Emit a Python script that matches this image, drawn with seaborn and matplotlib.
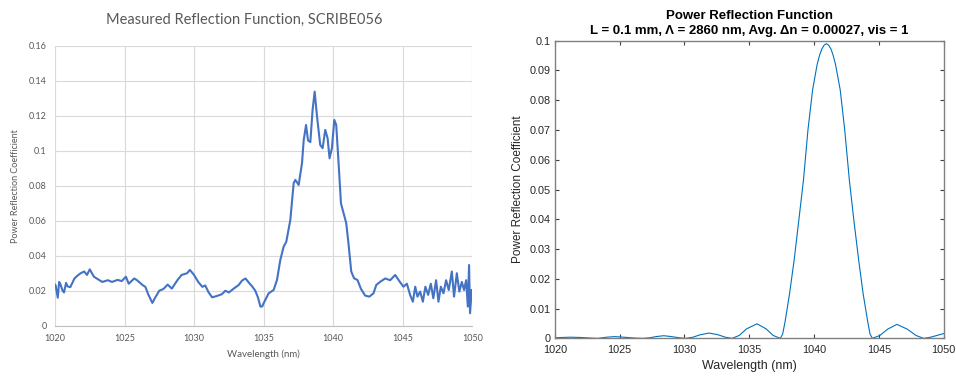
import numpy as np
import pandas as pd
import matplotlib
matplotlib.use("Agg")
import matplotlib.pyplot as plt
import seaborn as sns

# --- measured spectrum (left panel) ---
meas_wl = [1020.0, 1020.05, 1020.2, 1020.3, 1020.4, 1020.55, 1020.65, 1020.8, 1020.9, 1021.1,
           1021.4, 1021.6, 1021.85, 1022.1, 1022.3, 1022.5, 1022.8, 1023.0, 1023.4, 1023.8,
           1024.1, 1024.5, 1024.8, 1025.1, 1025.3, 1025.7, 1025.9, 1026.3, 1026.5, 1026.7,
           1027.0, 1027.2, 1027.5, 1027.8, 1028.1, 1028.4, 1028.8, 1029.1, 1029.5, 1029.7,
           1030.0, 1030.3, 1030.6, 1030.8, 1031.05, 1031.3, 1031.65, 1032.0, 1032.25, 1032.5,
           1032.85, 1033.2, 1033.45, 1033.7, 1033.9, 1034.2, 1034.4, 1034.6, 1034.77, 1034.9,
           1035.0, 1035.36, 1035.72, 1035.96, 1036.2, 1036.44, 1036.63, 1036.92, 1037.16, 1037.28,
           1037.52, 1037.76, 1037.88, 1038.05, 1038.19, 1038.36, 1038.52, 1038.67, 1038.84, 1039.07,
           1039.24, 1039.43, 1039.6, 1039.74, 1039.91, 1040.08, 1040.22, 1040.39, 1040.56, 1040.75,
           1040.94, 1041.1, 1041.3, 1041.5, 1041.75, 1042.0, 1042.3, 1042.6, 1042.9, 1043.1,
           1043.4, 1043.74, 1044.1, 1044.46, 1044.8, 1045.05, 1045.3, 1045.53, 1045.73, 1045.9,
           1046.06, 1046.25, 1046.45, 1046.63, 1046.83, 1047.02, 1047.2, 1047.4, 1047.57, 1047.74,
           1047.93, 1048.12, 1048.31, 1048.53, 1048.69, 1048.89, 1049.07, 1049.25, 1049.41, 1049.56,
           1049.68, 1049.77, 1049.84, 1049.96]
meas_r = [0.0235, 0.0230, 0.0160, 0.0250, 0.0235, 0.0200, 0.0190, 0.0245, 0.0225, 0.0220,
          0.0270, 0.0285, 0.0300, 0.0310, 0.0290, 0.0322, 0.0280, 0.0270, 0.0250, 0.0260,
          0.0250, 0.0262, 0.0255, 0.0280, 0.0240, 0.0270, 0.0260, 0.0232, 0.0222, 0.0180,
          0.0130, 0.0160, 0.0200, 0.0210, 0.0235, 0.0212, 0.0260, 0.0290, 0.0300, 0.0319,
          0.0290, 0.0250, 0.0222, 0.0230, 0.0190, 0.0162, 0.0170, 0.0180, 0.0200, 0.0190,
          0.0212, 0.0232, 0.0258, 0.0270, 0.0250, 0.0222, 0.0200, 0.0160, 0.0109, 0.0110,
          0.0128, 0.0185, 0.0204, 0.0261, 0.0376, 0.0452, 0.0480, 0.0605, 0.0815, 0.0834,
          0.0805, 0.0930, 0.1060, 0.1148, 0.1060, 0.1050, 0.1234, 0.1339, 0.1196, 0.1034,
          0.1015, 0.1120, 0.1072, 0.0958, 0.1015, 0.1177, 0.1148, 0.0930, 0.0700, 0.0643,
          0.0586, 0.0471, 0.0310, 0.0271, 0.0261, 0.0210, 0.0172, 0.0166, 0.0185, 0.0233,
          0.0252, 0.0270, 0.0260, 0.0290, 0.0250, 0.0223, 0.0240, 0.0176, 0.0137, 0.0223,
          0.0166, 0.0195, 0.0137, 0.0223, 0.0176, 0.0240, 0.0157, 0.0260, 0.0137, 0.0223,
          0.0185, 0.0260, 0.0204, 0.0310, 0.0166, 0.0300, 0.0195, 0.0250, 0.0204, 0.0260,
          0.0109, 0.0347, 0.0071, 0.0204]

# --- simulated spectrum (right panel) ---
sim_wl = [1020.0, 1020.5, 1021.2, 1022.0, 1022.8, 1023.3, 1024.0, 1024.6, 1025.3, 1026.2,
          1026.8, 1027.3, 1027.8, 1028.4, 1029.0, 1029.6, 1030.1, 1030.65, 1031.2, 1031.9,
          1032.6, 1033.15, 1033.67, 1034.23, 1034.79, 1035.6, 1036.3, 1036.84, 1037.4, 1037.58,
          1037.76, 1038.11, 1038.47, 1038.82, 1039.18, 1039.53, 1039.89, 1040.24, 1040.42, 1040.6,
          1040.78, 1040.95, 1041.12, 1041.31, 1041.48, 1041.66, 1042.02, 1042.37, 1042.73, 1043.08,
          1043.44, 1043.79, 1044.15, 1044.32, 1044.5, 1045.09, 1045.68, 1046.4, 1047.2, 1047.87,
          1048.46, 1049.0, 1049.5, 1050.0]
sim_r = [0.0002, 0.0003, 0.0004, 0.0003, 0.0001, 0.0, 0.0004, 0.0006, 0.0004, 0.0001,
         0.0, 0.0002, 0.0006, 0.0009, 0.0006, 0.0002, 0.0, 0.0004, 0.0012, 0.0018,
         0.0012, 0.0004, 0.0, 0.0010, 0.0032, 0.0049, 0.0032, 0.0010, 0.0, 0.0015,
         0.0055, 0.0150, 0.0265, 0.0395, 0.0530, 0.0700, 0.0835, 0.0920, 0.0950, 0.0972,
         0.0985, 0.0990, 0.0985, 0.0972, 0.0950, 0.0920, 0.0835, 0.0700, 0.0530, 0.0395,
         0.0265, 0.0150, 0.0055, 0.0015, 0.0, 0.0010, 0.0031, 0.0047, 0.0031, 0.0010,
         0.0, 0.0004, 0.0010, 0.0016]

x_ticks = [1020, 1025, 1030, 1035, 1040, 1045, 1050]
left_yticks = [0, 0.02, 0.04, 0.06, 0.08, 0.1, 0.12, 0.14, 0.16]
right_yticks = [0, 0.01, 0.02, 0.03, 0.04, 0.05, 0.06, 0.07, 0.08, 0.09, 0.1]

meas_df = pd.DataFrame({"wl": meas_wl, "r": meas_r})
sim_df = pd.DataFrame({"wl": sim_wl, "r": sim_r})

fig = plt.figure(figsize=(9.56, 3.8), dpi=100)

# ---------- left: Excel-like ----------
excel_grey = "#595959"
with sns.axes_style("whitegrid", {"grid.color": "#D9D9D9", "axes.edgecolor": "#BFBFBF"}):
    ax1 = fig.add_axes([0.0575, 0.143, 0.4365, 0.736])
sns.lineplot(data=meas_df, x="wl", y="r", ax=ax1, color="#4472C4", linewidth=1.5,
             estimator=None, sort=False)
ax1.set_xlim(1020, 1050)
ax1.set_ylim(0, 0.16)
ax1.set_xticks(x_ticks)
ax1.set_yticks(left_yticks)
ax1.set_yticklabels(["0", "0.02", "0.04", "0.06", "0.08", "0.1", "0.12", "0.14", "0.16"])
ax1.grid(True, color="#D9D9D9", linewidth=0.8)
for s in ["top", "right", "left"]:
    ax1.spines[s].set_visible(False)
ax1.spines["bottom"].set_color("#BFBFBF")
ax1.tick_params(axis="both", length=0, labelsize=6.5, labelcolor=excel_grey, pad=6)
ax1.set_xlabel("Wavelength (nm)", fontsize=7, color=excel_grey, labelpad=5)
ax1.set_ylabel("Power Reflection Coefficient", fontsize=6.5, color=excel_grey, labelpad=6)
for lab in ax1.get_xticklabels() + ax1.get_yticklabels():
    lab.set_family("Lato")
ax1.xaxis.label.set_family("Lato")
ax1.yaxis.label.set_family("Lato")
fig.text(244.5 / 956, 1 - 20 / 380, "Measured Reflection Function, SCRIBE056",
         ha="center", va="center", fontsize=10.5, color=excel_grey, family="Lato")

# ---------- right: MATLAB-like ----------
with sns.axes_style("ticks"):
    ax2 = fig.add_axes([0.5805, 0.1095, 0.4065, 0.7835])
sns.lineplot(data=sim_df, x="wl", y="r", ax=ax2, color="#0072BD", linewidth=0.8,
             estimator=None, sort=False)
ax2.set_xlim(1020, 1050)
ax2.set_ylim(0, 0.1)
ax2.set_xticks(x_ticks)
ax2.set_yticks(right_yticks)
ax2.set_yticklabels(["0", "0.01", "0.02", "0.03", "0.04", "0.05", "0.06", "0.07", "0.08", "0.09", "0.1"])
for s in ax2.spines.values():
    s.set_visible(True)
    s.set_color("#808080")
    s.set_linewidth(1.0)
ax2.tick_params(axis="both", direction="in", top=True, right=True, length=3,
                color="#404040", labelsize=7.8, labelcolor="#262626")
ax2.tick_params(axis="x", pad=5)
ax2.tick_params(axis="y", pad=3)
for lab in ax2.get_xticklabels() + ax2.get_yticklabels():
    lab.set_family("Liberation Sans")
ax2.set_xlabel("Wavelength (nm)", fontsize=9, color="#262626", family="Liberation Sans", labelpad=3)
ax2.set_ylabel("Power Reflection Coefficient", fontsize=8.5, color="#262626",
               family="Liberation Sans", labelpad=4)
ax2.set_title("Power Reflection Function\nL = 0.1 mm, \u039b = 2860 nm, Avg. \u0394n = 0.00027, vis = 1",
              fontsize=9.5, fontweight="bold", color="black", family="Liberation Sans",
              pad=5, linespacing=1.25)

fig.savefig("out.png", dpi=100)
